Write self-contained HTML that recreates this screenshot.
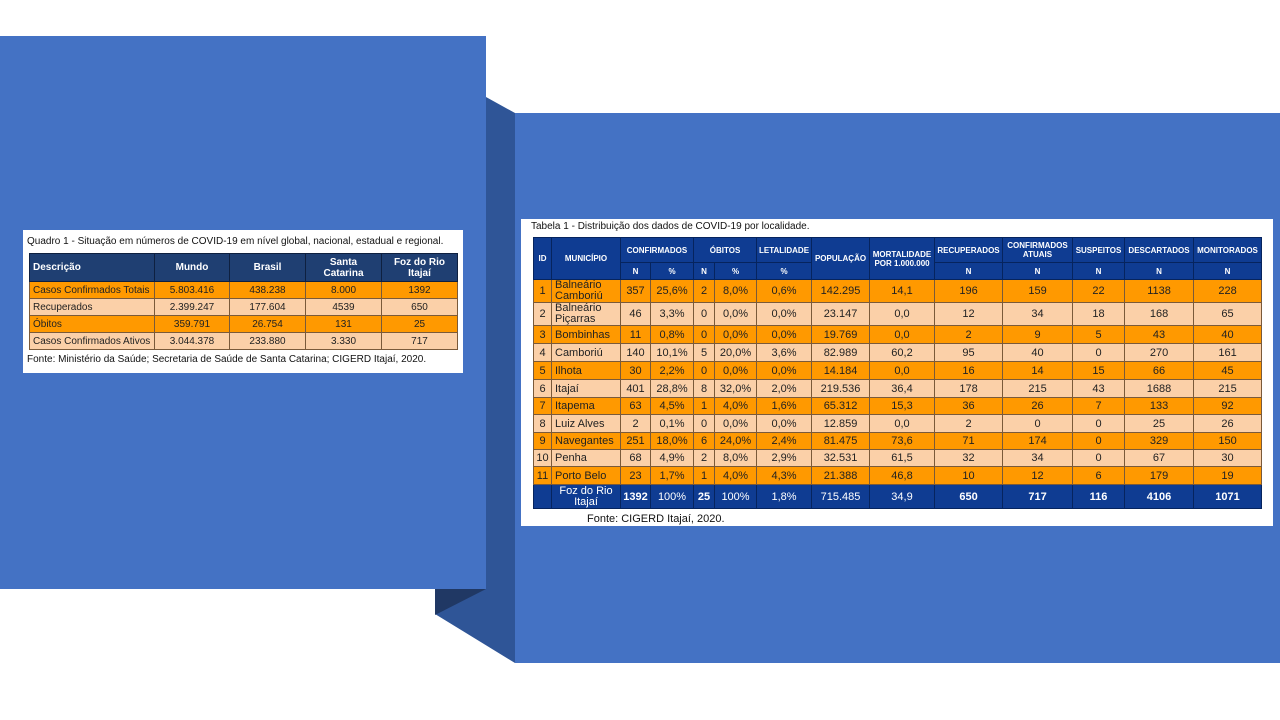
<!DOCTYPE html>
<html><head><meta charset="utf-8"><style>
*{margin:0;padding:0;box-sizing:border-box}
body{width:1280px;height:720px;background:#fff;position:relative;overflow:hidden;font-family:"Liberation Sans",Arial,sans-serif}
.abs{position:absolute}
table{border-collapse:collapse;table-layout:fixed;position:absolute}
td{text-align:center;vertical-align:middle;overflow:hidden;white-space:nowrap;padding:0}
.l td{border:1px solid #7a5a3a;font-size:10px;color:#222}
.l .h td{background:#1F3F72;color:#fff;font-weight:bold;font-size:10px;line-height:11px;border-color:#0e2040}
.o td{background:#FF9900}
.p td{background:#FBD0A8}
.r td{border:1px solid #7a5a3a;font-size:11px;color:#222}
.r .h td{background:#0F3C92;color:#fff;font-weight:bold;font-size:8px;line-height:9px;border-color:#06245e}
.r .t td{background:#0F3C92;color:#fff;border-color:#06245e}
.tl{text-align:left!important;padding-left:3px!important}
</style></head><body>
<div class="abs" style="left:0;top:36px;width:486px;height:553px;background:#4472C4"></div>
<svg class="abs" style="left:0;top:0" width="1280" height="720">
<polygon points="486,97 515,113 515,663 435,614 435,589 486,589" fill="#2F5597"/>
<polygon points="435,589 486,589 435,615" fill="#203864"/>
</svg>
<div class="abs" style="left:515px;top:113px;width:765px;height:550px;background:#4472C4"></div>

<div class="abs" style="left:23px;top:230px;width:440px;height:143px;background:#fff"></div>
<div class="abs" style="left:27px;top:236px;font-size:10px;color:#111">Quadro 1 - Situação em números de COVID-19 em nível global, nacional, estadual e regional.</div>
<table class="l" style="left:29px;top:253px;width:428px">
<colgroup><col style="width:125px"><col style="width:75px"><col style="width:76px"><col style="width:76px"><col style="width:76px"></colgroup>
<tr class="h" style="height:28px"><td class="tl">Descrição</td><td>Mundo</td><td>Brasil</td><td>Santa<br>Catarina</td><td>Foz do Rio<br>Itajaí</td></tr>
<tr class="o" style="height:17px"><td class="tl">Casos Confirmados Totais</td><td>5.803.416</td><td>438.238</td><td>8.000</td><td>1392</td></tr>
<tr class="p" style="height:17px"><td class="tl">Recuperados</td><td>2.399.247</td><td>177.604</td><td>4539</td><td>650</td></tr>
<tr class="o" style="height:17px"><td class="tl">Óbitos</td><td>359.791</td><td>26.754</td><td>131</td><td>25</td></tr>
<tr class="p" style="height:17px"><td class="tl">Casos Confirmados Ativos</td><td>3.044.378</td><td>233.880</td><td>3.330</td><td>717</td></tr>
</table>
<div class="abs" style="left:27px;top:354px;font-size:10px;color:#111">Fonte: Ministério da Saúde; Secretaria de Saúde de Santa Catarina; CIGERD Itajaí, 2020.</div>

<div class="abs" style="left:521px;top:219px;width:752px;height:307px;background:#fff"></div>
<div class="abs" style="left:531px;top:221px;font-size:10px;color:#111">Tabela 1 - Distribuição dos dados de COVID-19 por localidade.</div>
<table class="r" style="left:533px;top:237px;width:728px">
<colgroup><col style="width:18px"><col style="width:69px"><col style="width:30px"><col style="width:43px"><col style="width:21px"><col style="width:42px"><col style="width:55px"><col style="width:58px"><col style="width:65px"><col style="width:68px"><col style="width:70px"><col style="width:52px"><col style="width:69px"><col style="width:68px"></colgroup>
<tr class="h" style="height:25px"><td rowspan="2">ID</td><td rowspan="2">MUNICÍPIO</td><td colspan="2">CONFIRMADOS</td><td colspan="2">ÓBITOS</td><td>LETALIDADE</td><td rowspan="2">POPULAÇÃO</td><td rowspan="2">MORTALIDADE<br>POR 1.000.000</td><td>RECUPERADOS</td><td>CONFIRMADOS<br>ATUAIS</td><td>SUSPEITOS</td><td>DESCARTADOS</td><td>MONITORADOS</td></tr>
<tr class="h" style="height:17px"><td>N</td><td>%</td><td>N</td><td>%</td><td>%</td><td>N</td><td>N</td><td>N</td><td>N</td><td>N</td></tr>
<tr class="o" style="height:23px"><td>1</td><td class="tl" style="line-height:11px">Balneário<br>Camboriú</td><td>357</td><td>25,6%</td><td>2</td><td>8,0%</td><td>0,6%</td><td>142.295</td><td>14,1</td><td>196</td><td>159</td><td>22</td><td>1138</td><td>228</td></tr>
<tr class="p" style="height:23px"><td>2</td><td class="tl" style="line-height:11px">Balneário<br>Piçarras</td><td>46</td><td>3,3%</td><td>0</td><td>0,0%</td><td>0,0%</td><td>23.147</td><td>0,0</td><td>12</td><td>34</td><td>18</td><td>168</td><td>65</td></tr>
<tr class="o" style="height:18px"><td>3</td><td class="tl">Bombinhas</td><td>11</td><td>0,8%</td><td>0</td><td>0,0%</td><td>0,0%</td><td>19.769</td><td>0,0</td><td>2</td><td>9</td><td>5</td><td>43</td><td>40</td></tr>
<tr class="p" style="height:18px"><td>4</td><td class="tl">Camboriú</td><td>140</td><td>10,1%</td><td>5</td><td>20,0%</td><td>3,6%</td><td>82.989</td><td>60,2</td><td>95</td><td>40</td><td>0</td><td>270</td><td>161</td></tr>
<tr class="o" style="height:18px"><td>5</td><td class="tl">Ilhota</td><td>30</td><td>2,2%</td><td>0</td><td>0,0%</td><td>0,0%</td><td>14.184</td><td>0,0</td><td>16</td><td>14</td><td>15</td><td>66</td><td>45</td></tr>
<tr class="p" style="height:18px"><td>6</td><td class="tl">Itajaí</td><td>401</td><td>28,8%</td><td>8</td><td>32,0%</td><td>2,0%</td><td>219.536</td><td>36,4</td><td>178</td><td>215</td><td>43</td><td>1688</td><td>215</td></tr>
<tr class="o" style="height:17px"><td>7</td><td class="tl">Itapema</td><td>63</td><td>4,5%</td><td>1</td><td>4,0%</td><td>1,6%</td><td>65.312</td><td>15,3</td><td>36</td><td>26</td><td>7</td><td>133</td><td>92</td></tr>
<tr class="p" style="height:18px"><td>8</td><td class="tl">Luiz Alves</td><td>2</td><td>0,1%</td><td>0</td><td>0,0%</td><td>0,0%</td><td>12.859</td><td>0,0</td><td>2</td><td>0</td><td>0</td><td>25</td><td>26</td></tr>
<tr class="o" style="height:17px"><td>9</td><td class="tl">Navegantes</td><td>251</td><td>18,0%</td><td>6</td><td>24,0%</td><td>2,4%</td><td>81.475</td><td>73,6</td><td>71</td><td>174</td><td>0</td><td>329</td><td>150</td></tr>
<tr class="p" style="height:17px"><td>10</td><td class="tl">Penha</td><td>68</td><td>4,9%</td><td>2</td><td>8,0%</td><td>2,9%</td><td>32.531</td><td>61,5</td><td>32</td><td>34</td><td>0</td><td>67</td><td>30</td></tr>
<tr class="o" style="height:18px"><td>11</td><td class="tl">Porto Belo</td><td>23</td><td>1,7%</td><td>1</td><td>4,0%</td><td>4,3%</td><td>21.388</td><td>46,8</td><td>10</td><td>12</td><td>6</td><td>179</td><td>19</td></tr>
<tr class="t" style="height:24px"><td></td><td style="line-height:11px">Foz do Rio<br>Itajaí</td><td><b>1392</b></td><td>100%</td><td><b>25</b></td><td>100%</td><td>1,8%</td><td>715.485</td><td>34,9</td><td><b>650</b></td><td><b>717</b></td><td><b>116</b></td><td><b>4106</b></td><td><b>1071</b></td></tr>
</table>
<div class="abs" style="left:587px;top:513px;font-size:11px;color:#111">Fonte: CIGERD Itajaí, 2020.</div>
</body></html>
